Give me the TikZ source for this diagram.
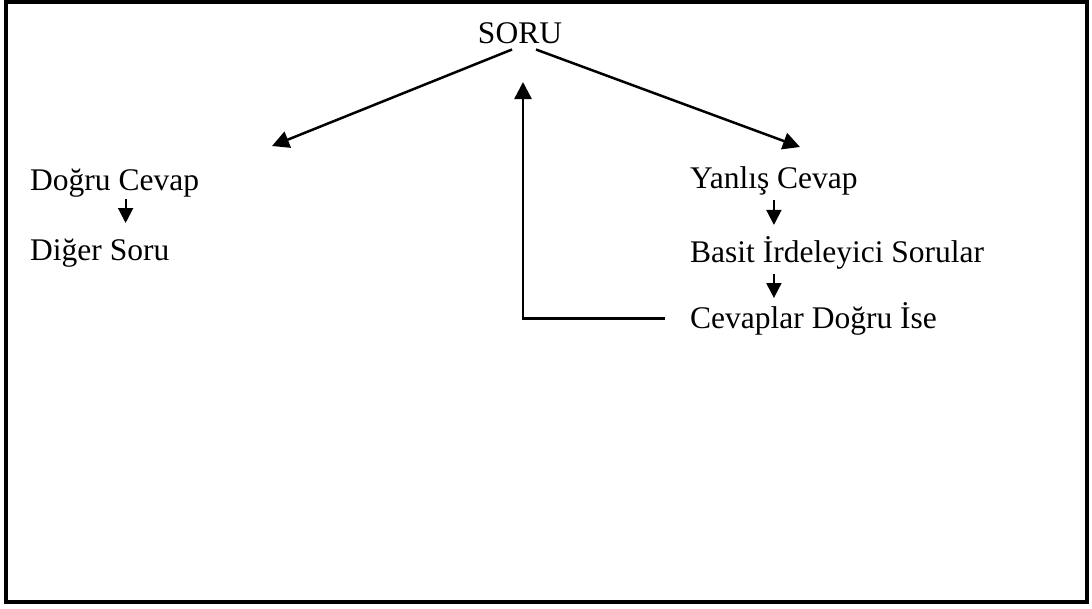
\documentclass[tikz,border=0pt]{standalone}
\usepackage{fontspec}
\setmainfont{Liberation Serif}
\usetikzlibrary{arrows.meta}
\tikzset{
	lbl/.style={anchor=base west,inner sep=0pt,font=\fontsize{31.5}{36}\selectfont},
	arr/.style={-{Triangle[length=17pt,width=17pt]},line width=2.5pt},
	smallarr/.style={-{Triangle[length=15pt,width=15pt]},line width=2pt}
}
\begin{document}
\begin{tikzpicture}[x=1pt,y=-1pt]
	\useasboundingbox (0,0) rectangle (1092,608);
	\draw[line width=3.5pt] (6,2) rectangle (1087,602);
	\node[lbl,anchor=base] (soru) at (520,43) {SORU};
	\node[lbl] (dogru) at (30,190) {Doğru Cevap};
	\node[lbl] (diger) at (30,260) {Diğer Soru};
	\node[lbl] (yanlis) at (690,188) {Yanlış Cevap};
	\node[lbl] (basit) at (690,262) {Basit İrdeleyici Sorular};
	\node[lbl] (ise) at (690,328) {Cevaplar Doğru İse};
	\coordinate (ltip) at (272,146);
	\coordinate (rtip) at (800,147);
	\coordinate (back) at (523,82);
	% branches from the question
	\draw[arr] ([shift={(-8,6)}]soru.south) -- (ltip);
	\draw[arr] ([shift={(16,6)}]soru.south) -- (rtip);
	% steps under each answer
	\draw[smallarr] ([shift={(11,2)}]dogru.south) -- ++(0,24);
	\draw[smallarr] ([yshift=-5pt]yanlis.south) -- ++(0,25);
	\draw[smallarr] ([yshift=-5pt]yanlis.south |- basit.south) -- ++(0,24);
	% back to the question
	\draw[arr] ([xshift=-25pt]ise.west) -| (back);
\end{tikzpicture}
\end{document}
